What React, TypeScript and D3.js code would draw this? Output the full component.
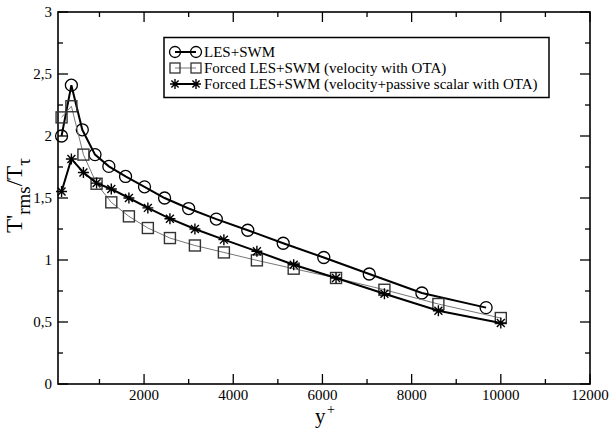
import React from 'react';
import * as d3 from 'd3';

const lesX = [150, 370, 615, 900, 1210, 1585, 2010, 2460, 3000, 3620, 4325, 5120, 6030, 7050, 8230, 9670];
const lesY = [2.0, 2.41, 2.05, 1.85, 1.755, 1.674, 1.59, 1.5, 1.415, 1.33, 1.24, 1.135, 1.02, 0.887, 0.734, 0.616];
const forcedX = [150, 370, 640, 935, 1265, 1660, 2085, 2580, 3140, 3790, 4530, 5355, 6305, 7390, 8600, 10000];
const velY = [2.15, 2.24, 1.85, 1.615, 1.465, 1.352, 1.258, 1.177, 1.117, 1.061, 0.997, 0.93, 0.855, 0.76, 0.645, 0.532];
const scalY = [1.553, 1.815, 1.706, 1.62, 1.573, 1.5, 1.42, 1.333, 1.25, 1.164, 1.07, 0.962, 0.855, 0.728, 0.591, 0.492];

const xMajor = [2000, 4000, 6000, 8000, 10000, 12000];
const xMinor = [1000, 3000, 5000, 7000, 9000, 11000];
const yMajor = [0, 0.5, 1, 1.5, 2, 2.5, 3];
const yMinor = [0.25, 0.75, 1.25, 1.75, 2.25, 2.75];
const legendLabels = [
  'LES+SWM',
  'Forced LES+SWM (velocity with OTA)',
  'Forced LES+SWM (velocity+passive scalar with OTA)',
];

const W = 609, H = 435;
const L = 58, R = 590, T = 12, B = 384;
const font = 'Liberation Serif, Times New Roman, serif';

const fmt = (v: number) => String(v).replace('.', ',');

function Star({ x, y, s = 5.5, sw = 1.4 }: { x: number; y: number; s?: number; sw?: number }) {
  const k = s * 0.72;
  return (
    <path
      d={`M${x - s},${y}L${x + s},${y}M${x},${y - s}L${x},${y + s}M${x - k},${y - k}L${x + k},${y + k}M${x - k},${y + k}L${x + k},${y - k}`}
      stroke="#000"
      strokeWidth={sw}
      fill="none"
    />
  );
}

export default function App() {
  const x = d3.scaleLinear().domain([70, 12000]).range([L, R]);
  const y = d3.scaleLinear().domain([0, 3]).range([B, T]);
  const line = (xs: number[], ys: number[]) =>
    d3.line<number>().x((_, i) => x(xs[i])).y((d) => y(d))(ys) as string;

  const legY = [52, 68, 84];
  return (
    <svg width={W} height={H} style={{ display: 'block', position: 'absolute', left: 0, top: 0 }}>
      <rect x={0} y={0} width={W} height={H} fill="#fff" />
      {/* ticks */}
      {xMajor.map((v) => (
        <g key={'xM' + v}>
          <line x1={x(v)} x2={x(v)} y1={B} y2={B - 10} stroke="#000" strokeWidth={1.3} />
          <line x1={x(v)} x2={x(v)} y1={T} y2={T + 10} stroke="#000" strokeWidth={1.3} />
          <text x={x(v)} y={400} textAnchor="middle" fontFamily={font} fontSize={15}>{v}</text>
        </g>
      ))}
      {xMinor.map((v) => (
        <g key={'xm' + v}>
          <line x1={x(v)} x2={x(v)} y1={B} y2={B - 5} stroke="#000" strokeWidth={1.3} />
          <line x1={x(v)} x2={x(v)} y1={T} y2={T + 5} stroke="#000" strokeWidth={1.3} />
        </g>
      ))}
      {yMajor.map((v) => (
        <g key={'yM' + v}>
          <line x1={L} x2={L + 10} y1={y(v)} y2={y(v)} stroke="#000" strokeWidth={1.3} />
          <line x1={R} x2={R - 10} y1={y(v)} y2={y(v)} stroke="#000" strokeWidth={1.3} />
          <text x={52} y={y(v) + 5} textAnchor="end" fontFamily={font} fontSize={15}>{fmt(v)}</text>
        </g>
      ))}
      {yMinor.map((v) => (
        <g key={'ym' + v}>
          <line x1={L} x2={L + 5} y1={y(v)} y2={y(v)} stroke="#000" strokeWidth={1.3} />
          <line x1={R} x2={R - 5} y1={y(v)} y2={y(v)} stroke="#000" strokeWidth={1.3} />
        </g>
      ))}
      <rect x={L} y={T} width={R - L} height={B - T} fill="none" stroke="#000" strokeWidth={1.6} />

      {/* series 1: circles */}
      <path d={line(lesX, lesY)} fill="none" stroke="#000" strokeWidth={2} />
      {lesX.map((v, i) => (
        <circle key={'c' + i} cx={x(v)} cy={y(lesY[i])} r={6} fill="none" stroke="#000" strokeWidth={1.3} />
      ))}
      {/* series 2: squares */}
      <path d={line(forcedX, velY)} fill="none" stroke="#777" strokeWidth={1} />
      {forcedX.map((v, i) => (
        <rect key={'s' + i} x={x(v) - 5.5} y={y(velY[i]) - 5.5} width={11} height={11} fill="none" stroke="#333" strokeWidth={1.4} />
      ))}
      {/* series 3: stars */}
      <path d={line(forcedX, scalY)} fill="none" stroke="#000" strokeWidth={2} />
      {forcedX.map((v, i) => (
        <Star key={'t' + i} x={x(v)} y={y(scalY[i])} />
      ))}

      {/* legend */}
      <rect x={164} y={37.5} width={385} height={60} fill="#fff" stroke="#000" strokeWidth={1.5} />
      <line x1={175} x2={196} y1={legY[0]} y2={legY[0]} stroke="#000" strokeWidth={2} />
      <circle cx={175} cy={legY[0]} r={5.5} fill="none" stroke="#000" strokeWidth={1.3} />
      <circle cx={196} cy={legY[0]} r={5.5} fill="none" stroke="#000" strokeWidth={1.3} />
      <line x1={175} x2={196} y1={legY[1]} y2={legY[1]} stroke="#777" strokeWidth={1} />
      <rect x={170} y={legY[1] - 5} width={10} height={10} fill="none" stroke="#333" strokeWidth={1.3} />
      <rect x={191} y={legY[1] - 5} width={10} height={10} fill="none" stroke="#333" strokeWidth={1.3} />
      <line x1={175} x2={196} y1={legY[2]} y2={legY[2]} stroke="#000" strokeWidth={2} />
      <Star x={175} y={legY[2]} s={5} />
      <Star x={196} y={legY[2]} s={5} />
      {legendLabels.map((t, i) => (
        <text key={t} x={204} y={legY[i] + 5} fontFamily={font} fontSize={15}>{t}</text>
      ))}

      {/* axis titles */}
      <text x={315} y={423} fontFamily={font} fontSize={21}>y</text>
      <text x={327} y={414} fontFamily={font} fontSize={14}>+</text>
      <text transform="translate(22,233) rotate(-90)" fontFamily={font} fontSize={23}>
        T'<tspan dy={8} fontSize={19}>rms</tspan><tspan dy={-8}>/T</tspan><tspan dy={8} fontSize={19}>τ</tspan>
      </text>
    </svg>
  );
}
